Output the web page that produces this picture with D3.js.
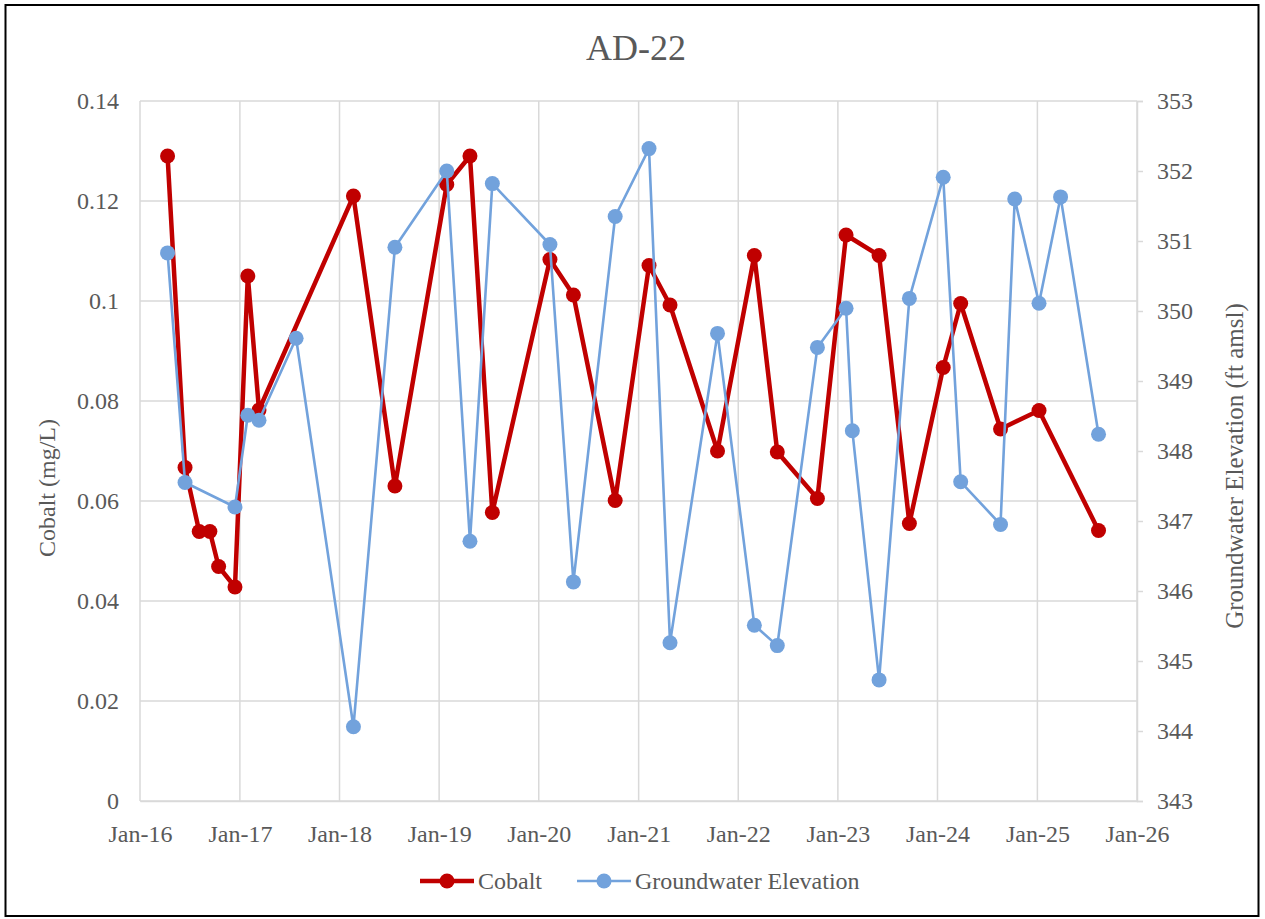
<!DOCTYPE html>
<html>
<head>
<meta charset="utf-8">
<script src="https://cdn.jsdelivr.net/npm/d3@7"></script>
<style>
  body { margin: 0; background: #fff; }
  svg { display: block; font-family: "Liberation Serif", "Times New Roman", serif; }
</style>
</head>
<body>
<div id="chart"></div>
<script>
// sampling dates and values
const cobaltDates = ["2016-04-11", "2016-06-14", "2016-08-05", "2016-09-13", "2016-10-15", "2016-12-14",
  "2017-01-30", "2017-03-12", "2018-02-21", "2018-07-23", "2019-01-29", "2019-04-24", "2019-07-15",
  "2020-02-11", "2020-05-07", "2020-10-07", "2021-02-08", "2021-04-26", "2021-10-17", "2022-03-01",
  "2022-05-24", "2022-10-18", "2023-01-31", "2023-06-01", "2023-09-20", "2024-01-22", "2024-03-26",
  "2024-08-19", "2025-01-07", "2025-08-13"];
const cobaltValues = [0.129, 0.0667, 0.0539, 0.0539, 0.0469, 0.0428,
  0.105, 0.0782, 0.121, 0.063, 0.1233, 0.129, 0.0577,
  0.1083, 0.1012, 0.0601, 0.1071, 0.0992, 0.070, 0.1091,
  0.0698, 0.0605, 0.1132, 0.1091, 0.0555, 0.0867, 0.0995,
  0.0744, 0.0781, 0.0541];

const groundwaterDates = ["2016-04-11", "2016-06-14", "2016-12-14", "2017-01-30", "2017-03-12", "2017-07-26",
  "2018-02-21", "2018-07-23", "2019-01-29", "2019-04-24", "2019-07-15", "2020-02-11", "2020-05-07",
  "2020-10-07", "2021-02-08", "2021-04-26", "2021-10-17", "2022-03-01", "2022-05-24", "2022-10-18",
  "2023-01-31", "2023-02-23", "2023-06-01", "2023-09-20", "2024-01-22", "2024-03-26", "2024-08-19",
  "2024-10-10", "2025-01-07", "2025-03-27", "2025-08-13"];
const groundwaterValues = [350.83, 347.55, 347.2, 348.51, 348.44, 349.61,
  344.06, 350.91, 352.0, 346.71, 351.82, 350.95, 346.13,
  351.35, 352.32, 345.26, 349.68, 345.51, 345.22, 349.48,
  350.04, 348.29, 344.73, 350.18, 351.91, 347.56, 346.95,
  351.6, 350.11, 351.63, 348.24];

const leftTicks = [0, 0.02, 0.04, 0.06, 0.08, 0.1, 0.12, 0.14];
const rightTicks = [343, 344, 345, 346, 347, 348, 349, 350, 351, 352, 353];

const title = "AD-22";
const leftTitle = "Cobalt (mg/L)";
const rightTitle = "Groundwater Elevation (ft amsl)";
const seriesNames = ["Cobalt", "Groundwater Elevation"];

const width = 1265, height = 919;
const margin = { top: 101, right: 128, bottom: 118, left: 140 };
const textColor = "#595959";
const gridColor = "#d9d9d9";
const red = "#c00000";
const blue = "#72a2dc";

const parse = d3.timeParse("%Y-%m-%d");
const cobalt = cobaltDates.map((d, i) => ({ date: parse(d), value: cobaltValues[i] }));
const groundwater = groundwaterDates.map((d, i) => ({ date: parse(d), value: groundwaterValues[i] }));

const svg = d3.select("#chart").append("svg")
  .attr("width", width)
  .attr("height", height);

svg.append("rect")
  .attr("width", width).attr("height", height)
  .attr("fill", "#fff");

// chart border
svg.append("rect")
  .attr("x", 5.5).attr("y", 5)
  .attr("width", 1253).attr("height", 911)
  .attr("fill", "none")
  .attr("stroke", "#000")
  .attr("stroke-width", 2);

const x = d3.scaleTime()
  .domain([parse("2016-01-01"), parse("2026-01-01")])
  .range([margin.left, width - margin.right]);

const yLeft = d3.scaleLinear()
  .domain([0, 0.14])
  .range([height - margin.bottom, margin.top]);

const yRight = d3.scaleLinear()
  .domain([343, 353])
  .range([height - margin.bottom, margin.top]);

// gridlines
const grid = svg.append("g").attr("stroke", gridColor).attr("stroke-width", 1.5);
grid.selectAll("line.h")
  .data(leftTicks)
  .join("line")
  .attr("class", "h")
  .attr("x1", x.range()[0]).attr("x2", x.range()[1])
  .attr("y1", d => yLeft(d)).attr("y2", d => yLeft(d));
grid.selectAll("line.v")
  .data(x.ticks(d3.timeYear.every(1)))
  .join("line")
  .attr("class", "v")
  .attr("x1", d => x(d)).attr("x2", d => x(d))
  .attr("y1", yLeft.range()[0]).attr("y2", yLeft.range()[1]);

// left axis
const leftAxis = svg.append("g")
  .attr("transform", `translate(${margin.left},0)`)
  .call(d3.axisLeft(yLeft).tickValues(leftTicks).tickFormat(d => d3.format("")(+d.toFixed(2))).tickSize(0).tickPadding(21));
leftAxis.select(".domain").remove();
leftAxis.selectAll("text").attr("fill", textColor).attr("font-size", 24).attr("font-family", "Liberation Serif");

// right axis
const rightAxis = svg.append("g")
  .attr("transform", `translate(${width - margin.right},0)`)
  .call(d3.axisRight(yRight).tickValues(rightTicks).tickSize(6).tickPadding(14));
rightAxis.select(".domain").attr("stroke", gridColor).attr("stroke-width", 1.5);
rightAxis.selectAll("line").attr("stroke", gridColor).attr("stroke-width", 1.5);
rightAxis.selectAll("text").attr("fill", textColor).attr("font-size", 24).attr("font-family", "Liberation Serif");

// bottom axis
const bottomAxis = svg.append("g")
  .attr("transform", `translate(0,${height - margin.bottom})`)
  .call(d3.axisBottom(x).ticks(d3.timeYear.every(1)).tickFormat(d3.timeFormat("%b-%y")).tickSize(0).tickPadding(24));
bottomAxis.select(".domain").attr("stroke", gridColor).attr("stroke-width", 1.5);
bottomAxis.selectAll("text").attr("fill", textColor).attr("font-size", 24).attr("font-family", "Liberation Serif");

// titles
svg.append("text")
  .attr("x", 636).attr("y", 60)
  .attr("text-anchor", "middle")
  .attr("font-size", 36)
  .attr("fill", textColor)
  .text(title);

svg.append("text")
  .attr("transform", "translate(55,488) rotate(-90)")
  .attr("text-anchor", "middle")
  .attr("font-size", 24)
  .attr("fill", textColor)
  .text(leftTitle);

svg.append("text")
  .attr("transform", "translate(1243,466) rotate(-90)")
  .attr("text-anchor", "middle")
  .attr("font-size", 25)
  .attr("fill", textColor)
  .text(rightTitle);

// cobalt series
const cobaltLine = d3.line().x(d => x(d.date)).y(d => yLeft(d.value));
svg.append("path")
  .datum(cobalt)
  .attr("d", cobaltLine)
  .attr("fill", "none")
  .attr("stroke", red)
  .attr("stroke-width", 4.5)
  .attr("stroke-linejoin", "round");
svg.append("g")
  .selectAll("circle")
  .data(cobalt)
  .join("circle")
  .attr("cx", d => x(d.date))
  .attr("cy", d => yLeft(d.value))
  .attr("r", 7.5)
  .attr("fill", red);

// groundwater series
const gwLine = d3.line().x(d => x(d.date)).y(d => yRight(d.value));
svg.append("path")
  .datum(groundwater)
  .attr("d", gwLine)
  .attr("fill", "none")
  .attr("stroke", blue)
  .attr("stroke-width", 2.6)
  .attr("stroke-linejoin", "round");
svg.append("g")
  .selectAll("circle")
  .data(groundwater)
  .join("circle")
  .attr("cx", d => x(d.date))
  .attr("cy", d => yRight(d.value))
  .attr("r", 7.5)
  .attr("fill", blue);

// legend
const legend = svg.append("g").attr("transform", "translate(0,881)");
const legendItems = [
  { name: seriesNames[0], color: red, w: 4.5, x0: 420 },
  { name: seriesNames[1], color: blue, w: 2.6, x0: 577 }
];
legendItems.forEach(item => {
  legend.append("line")
    .attr("x1", item.x0).attr("x2", item.x0 + 54)
    .attr("y1", 0).attr("y2", 0)
    .attr("stroke", item.color)
    .attr("stroke-width", item.w);
  legend.append("circle")
    .attr("cx", item.x0 + 27).attr("cy", 0)
    .attr("r", 7.5)
    .attr("fill", item.color);
  legend.append("text")
    .attr("x", item.x0 + 58).attr("y", 8)
    .attr("font-size", 24)
    .attr("fill", textColor)
    .text(item.name);
});
</script>
</body>
</html>
